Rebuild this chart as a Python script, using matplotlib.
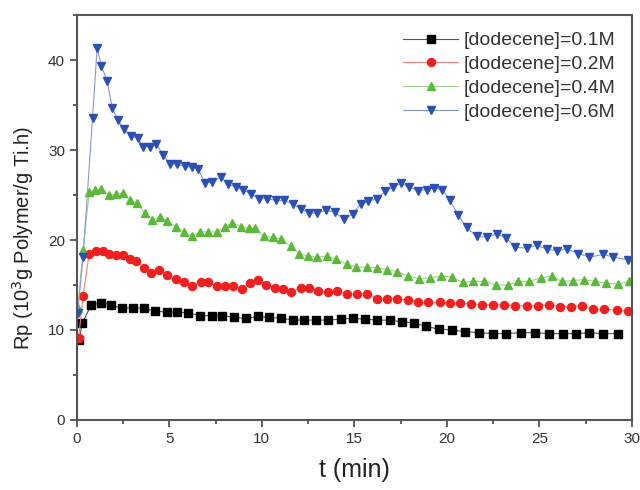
import numpy as np
import matplotlib
matplotlib.use("Agg")
import matplotlib.pyplot as plt
from matplotlib.ticker import MultipleLocator

plt.rcParams['font.family'] = ['Liberation Sans', 'DejaVu Sans']

# [dodecene]=0.1M
t1 = [0.13, 0.3, 0.79, 1.33, 1.87, 2.45, 3.05, 3.62, 4.2, 4.85,
      5.4, 6.0, 6.65, 7.28, 7.87, 8.5, 9.14, 9.8, 10.4, 11.06,
      11.7, 12.3, 12.95, 13.6, 14.25, 14.9, 15.57, 16.2, 16.9, 17.55,
      18.2, 18.86, 19.55, 20.3, 20.97, 21.75, 22.47, 23.2, 24.0, 24.75,
      25.5, 26.25, 27.0, 27.7, 28.45, 29.26]
rp1 = [8.9, 10.8, 12.8, 13.0, 12.8, 12.4, 12.5, 12.4, 12.1, 12.0,
       12.0, 11.9, 11.6, 11.6, 11.6, 11.4, 11.3, 11.5, 11.4, 11.3,
       11.1, 11.1, 11.1, 11.1, 11.2, 11.3, 11.2, 11.1, 11.1, 10.9,
       10.8, 10.4, 10.1, 10.0, 9.8, 9.7, 9.6, 9.6, 9.7, 9.7,
       9.6, 9.6, 9.6, 9.7, 9.6, 9.6]

# [dodecene]=0.2M
t2 = [0.1, 0.34, 0.67, 1.03, 1.39, 1.75, 2.1, 2.47, 2.86, 3.22,
      3.62, 4.03, 4.45, 4.88, 5.35, 5.78, 6.2, 6.69, 7.1, 7.55,
      8.0, 8.45, 8.9, 9.37, 9.8, 10.2, 10.7, 11.15, 11.6, 12.09,
      12.54, 13.05, 13.55, 14.07, 14.6, 15.15, 15.66, 16.2, 16.74, 17.3,
      17.9, 18.45, 19.0, 19.6, 20.16, 20.7, 21.3, 21.9, 22.5, 23.1,
      23.7, 24.3, 24.9, 25.5, 26.1, 26.7, 27.3, 27.9, 28.5, 29.2, 29.8]
rp2 = [9.1, 13.8, 18.5, 18.8, 18.8, 18.4, 18.3, 18.3, 17.9, 17.7,
       16.9, 16.3, 16.7, 16.1, 15.7, 15.3, 14.9, 15.3, 15.3, 14.9,
       14.9, 14.9, 14.6, 15.2, 15.6, 15.0, 14.7, 14.6, 14.2, 14.7,
       14.7, 14.3, 14.2, 14.3, 14.0, 14.0, 14.0, 13.5, 13.5, 13.5,
       13.3, 13.1, 13.1, 13.1, 13.0, 13.0, 12.9, 12.8, 12.8, 12.8,
       12.7, 12.7, 12.7, 12.8, 12.6, 12.6, 12.7, 12.3, 12.3, 12.2, 12.1]

# [dodecene]=0.4M
t3 = [0.05, 0.34, 0.67, 0.97, 1.33, 1.75, 2.14, 2.47, 2.86, 3.26,
      3.68, 4.09, 4.49, 4.9, 5.35, 5.78, 6.2, 6.65, 7.1, 7.55,
      8.0, 8.4, 8.86, 9.3, 9.65, 10.1, 10.6, 11.06, 11.55, 12.0,
      12.5, 13.0, 13.5, 14.0, 14.6, 15.1, 15.66, 16.2, 16.74, 17.3,
      17.9, 18.5, 19.1, 19.68, 20.25, 20.85, 21.4, 22.0, 22.65, 23.3,
      23.85, 24.45, 25.06, 25.66, 26.2, 26.8, 27.4, 28.0, 28.6, 29.26, 29.84]
rp3 = [12.5, 18.9, 25.3, 25.6, 25.7, 25.0, 25.1, 25.2, 24.5, 24.1,
       23.0, 22.2, 22.6, 22.1, 21.5, 20.9, 20.4, 20.9, 20.9, 20.9,
       21.5, 21.9, 21.5, 21.3, 21.3, 20.4, 20.3, 20.1, 19.3, 18.5,
       18.2, 18.1, 18.2, 17.9, 17.3, 17.0, 17.0, 16.9, 16.7, 16.5,
       16.0, 15.7, 15.8, 16.0, 15.9, 15.3, 15.4, 15.4, 15.0, 15.0,
       15.4, 15.4, 15.8, 16.0, 15.4, 15.5, 15.6, 15.4, 15.2, 15.1, 15.4]

# [dodecene]=0.6M
t4 = [0.05, 0.34, 0.85, 1.1, 1.33, 1.64, 1.91, 2.23, 2.54, 2.92,
      3.28, 3.59, 3.95, 4.3, 4.67, 5.03, 5.39, 5.84, 6.2, 6.56,
      6.92, 7.33, 7.78, 8.18, 8.58, 9.0, 9.42, 9.86, 10.3, 10.76,
      11.2, 11.66, 12.09, 12.56, 13.0, 13.46, 13.95, 14.43, 14.9, 15.34,
      15.75, 16.2, 16.65, 17.1, 17.5, 17.95, 18.45, 18.9, 19.3, 19.76,
      20.16, 20.6, 21.06, 21.6, 22.15, 22.7, 23.2, 23.7, 24.3, 24.85,
      25.4, 25.96, 26.5, 27.1, 27.7, 28.45, 29.0, 29.8]
rp4 = [11.9, 18.1, 33.6, 41.4, 39.3, 37.7, 34.7, 33.3, 32.3, 31.6,
       31.3, 30.4, 30.4, 30.7, 29.4, 28.5, 28.4, 28.2, 28.1, 27.9,
       26.3, 26.5, 27.0, 26.2, 25.9, 25.6, 25.1, 24.6, 24.6, 24.4,
       24.4, 24.0, 23.5, 23.0, 23.0, 23.3, 23.1, 22.3, 22.9, 24.0,
       24.3, 24.6, 25.4, 25.9, 26.3, 25.9, 25.5, 25.6, 25.8, 25.6,
       24.4, 22.8, 21.4, 20.4, 20.3, 20.7, 20.2, 19.2, 19.1, 19.4,
       19.0, 18.8, 19.0, 18.5, 18.1, 18.4, 18.1, 17.8]

labels = ['[dodecene]=0.1M', '[dodecene]=0.2M', '[dodecene]=0.4M', '[dodecene]=0.6M']

fig = plt.figure(figsize=(6.4, 4.9), dpi=100)
ax = fig.add_axes([0.12, 0.143, 0.8675, 0.826])

# marker, marker colour, line colour, size
styles = [('s', '#000000', '#555555', 5.2),
          ('o', '#f02020', '#f28080', 5.8),
          ('^', '#5cb83a', '#9ed68a', 6.2),
          ('v', '#2c4fb4', '#8797d4', 6.2)]
series = [(t1, rp1), (t2, rp2), (t3, rp3), (t4, rp4)]

for (t, rp), (m, mc, lc, ms), lab in zip(series, styles, labels):
    ax.plot(t, rp, color=lc, lw=0.8, marker=m, ms=ms, mfc=mc, mec=mc, label=lab)

ax.set_xlim(0, 30)
ax.set_ylim(0, 45)
ax.xaxis.set_major_locator(MultipleLocator(5))
ax.xaxis.set_minor_locator(MultipleLocator(2.5))
ax.yaxis.set_major_locator(MultipleLocator(10))
ax.yaxis.set_minor_locator(MultipleLocator(5))
ax.tick_params(which='both', direction='out', colors='#444444', labelcolor='#333333',
               top=False, right=False, labelsize=11)
ax.tick_params(which='major', length=5, width=1.2)
ax.tick_params(which='minor', length=3, width=1.2)
for s in ax.spines.values():
    s.set_color('#555555')
    s.set_linewidth(1.5)

ax.set_xlabel('t (min)', fontsize=18, color='#222222', labelpad=9)
ax.set_ylabel('Rp (10$^3$g Polymer/g Ti.h)', fontsize=14.5, color='#222222', labelpad=6)
ax.yaxis.set_label_coords(-0.074, 0.45)

leg = ax.legend(loc='upper right', frameon=False, fontsize=14, handlelength=2.8,
                labelspacing=0.32, borderaxespad=0.45, handletextpad=0.3)
for txt in leg.get_texts():
    txt.set_color('#333333')

fig.savefig('out.png', dpi=100)
